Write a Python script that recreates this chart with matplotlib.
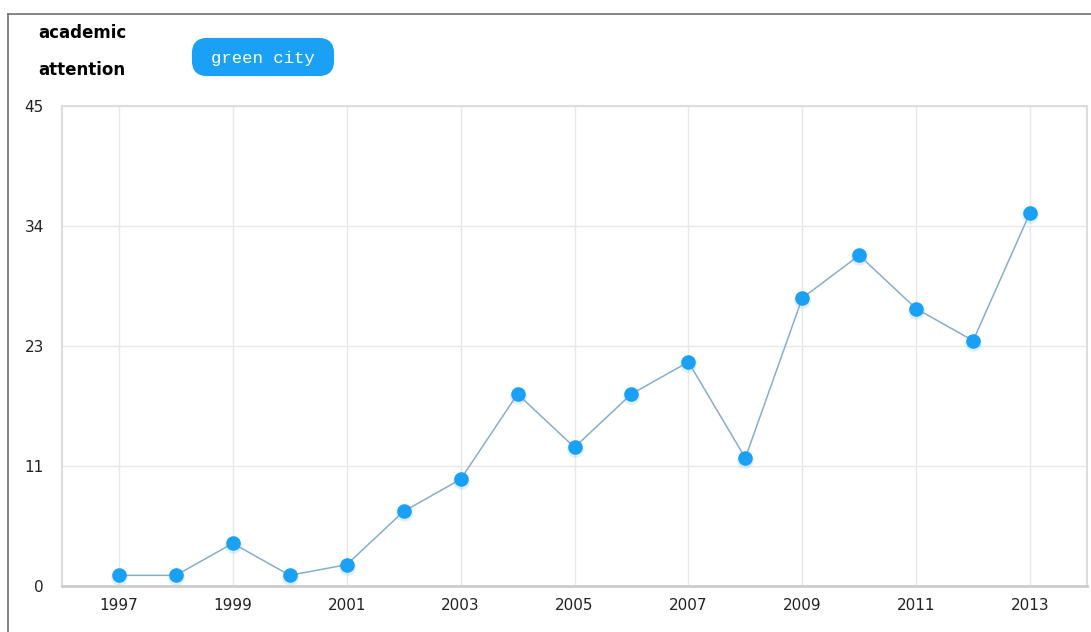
import matplotlib.pyplot as plt
from matplotlib.patches import FancyBboxPatch
from matplotlib.lines import Line2D

# data
years = list(range(1997, 2014))
attention = [1, 1, 4, 1, 2, 7, 10, 18, 13, 18, 21, 12, 27, 31, 26, 23, 35]
xtick_years = [1997, 1999, 2001, 2003, 2005, 2007, 2009, 2011, 2013]
ytick_vals = [0, 11.25, 22.5, 33.75, 45]
ytick_labels = ['0', '11', '23', '34', '45']

W, H = 1091, 632
fig = plt.figure(figsize=(W / 100, H / 100), dpi=100)
fig.patch.set_facecolor('white')

# outer frame (only top and left visible)
fig.add_artist(Line2D([8 / W, 8 / W], [0, 1 - 14 / H], transform=fig.transFigure,
                      color='#707070', linewidth=1.2))
fig.add_artist(Line2D([8 / W, 1], [1 - 14 / H, 1 - 14 / H], transform=fig.transFigure,
                      color='#707070', linewidth=1.2))

ax = fig.add_axes([62 / W, (H - 586) / H, (1087 - 62) / W, (586 - 106) / H])

# soft shadow under markers
ax.plot(years, [v - 0.2 for v in attention], linestyle='none', marker='o',
        markersize=12, color='#1a9ff0', alpha=0.15, markeredgewidth=0, zorder=2)
ax.plot(years, attention, color='#86aecb', linewidth=1.1, zorder=3)
ax.plot(years, attention, linestyle='none', marker='o', markersize=10.5,
        color='#1aa0f5', markeredgewidth=0, zorder=4)

ax.set_xlim(1996, 2014)
ax.set_ylim(0, 45)
ax.set_xticks(xtick_years)
ax.set_xticklabels([str(y) for y in xtick_years])
ax.set_yticks(ytick_vals)
ax.set_yticklabels(ytick_labels)
ax.tick_params(length=0, labelsize=11, colors='#222222')
ax.tick_params(axis='y', pad=13)
ax.tick_params(axis='x', pad=9)
ax.grid(True, color='#e8e8e8', linewidth=1)
ax.set_axisbelow(True)

for side in ['left', 'top', 'right']:
    ax.spines[side].set_color('#dddddd')
    ax.spines[side].set_linewidth(1.5)
ax.spines['bottom'].set_color('#cccccc')
ax.spines['bottom'].set_linewidth(2)

# title
fig.text(38 / W, 1 - 33 / H, 'academic', fontsize=12, fontweight='bold',
         color='black', va='center', ha='left')
fig.text(38 / W, 1 - 70 / H, 'attention', fontsize=12, fontweight='bold',
         color='black', va='center', ha='left')

# legend pill
pill = FancyBboxPatch((194 / W, 1 - 74 / H), (332 - 194) / W, (74 - 40) / H,
                      boxstyle='round,pad=0,rounding_size=0.012',
                      transform=fig.transFigure, facecolor='#1aa0f5',
                      edgecolor='#1aa0f5', linewidth=3, mutation_aspect=W / H)
fig.add_artist(pill)
fig.text(263 / W, 1 - 58 / H, 'green city', fontsize=12.5, color='white',
         family='Liberation Mono', va='center', ha='center')

fig.savefig('out.png', dpi=100)
